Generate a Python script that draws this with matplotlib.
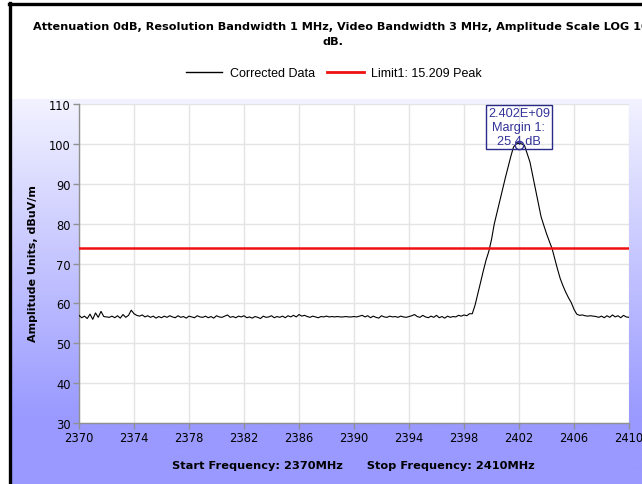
import numpy as np
import matplotlib
matplotlib.use("Agg")
import matplotlib.pyplot as plt
from matplotlib.lines import Line2D

# ---------------- data ----------------
freq_start = 2370.0
freq_stop = 2410.0
x_ticks = [2370, 2374, 2378, 2382, 2386, 2390, 2394, 2398, 2402, 2406, 2410]
y_ticks = [30, 40, 50, 60, 70, 80, 90, 100, 110]

trace_left = [57.0, 56.4, 56.8, 56.2, 57.3, 56.0, 57.6, 56.5, 58.0, 56.7,
              56.6, 56.5, 56.8, 56.4, 56.9, 56.3, 57.2, 56.5, 57.0, 58.3,
              57.4, 57.0, 56.8, 57.1, 56.6, 56.9, 56.5, 56.8, 56.3, 56.7,
              56.4]
trace_mid = [56.8, 56.5, 56.9, 56.6, 56.4, 56.9, 56.5, 56.7,
             56.3, 56.8, 56.6, 56.4, 56.9, 56.6, 56.5, 56.8,
             56.4, 56.7, 56.3, 56.9, 56.6, 56.5, 56.8, 57.1,
             56.5, 56.7, 56.4, 56.8, 56.6, 56.9, 56.4, 56.6,
             56.3, 56.7, 56.5, 56.2, 56.8, 56.5, 56.6, 56.9,
             56.4, 56.7, 56.5, 56.8, 56.4, 56.9, 56.6, 57.0,
             56.6, 57.2, 56.8, 57.0, 56.7, 56.5, 56.8, 56.6,
             56.4, 56.7, 56.6, 56.8, 56.6, 56.7, 56.6, 56.7,
             56.6, 56.6, 56.7, 56.6, 56.6, 56.7, 56.6, 56.8,
             57.0, 56.6, 56.9, 56.4, 56.8, 56.5, 56.3, 56.9,
             56.6, 56.5, 56.8, 56.6, 56.7, 56.5, 56.8, 56.6,
             56.5, 56.7, 56.9, 57.2, 56.7, 56.5, 57.0, 56.6,
             56.4, 56.8, 56.5, 57.0, 56.4, 56.7, 56.3, 56.8,
             56.5, 56.7, 56.6, 57.0, 56.8, 57.1, 56.9, 57.4]
trace_peak = [57.4, 59.5, 62.3, 65.2, 68.1, 70.8, 73.0, 76.0, 79.9, 82.8,
              85.7, 88.6, 91.4, 94.1, 96.8, 99.2, 100.0, 100.1,
              100.0, 99.6, 97.5, 95.4, 92.0, 88.5, 85.2, 81.8, 79.6, 77.5,
              75.6, 73.8, 71.2, 68.6, 66.2, 64.4, 62.8, 61.4, 60.2, 58.5,
              57.3]
trace_right = [57.0, 57.1, 56.9, 56.8, 56.9, 56.8, 56.7, 56.5, 56.8, 56.4,
               56.9, 56.5, 57.1, 56.6, 56.9, 56.4, 57.0, 56.6, 56.5]

corrected_data = trace_left + trace_mid + trace_peak + trace_right
limit_value = 74.0
marker_freq = 2402.0
marker_value = 99.7

title_line1 = "Attenuation 0dB, Resolution Bandwidth 1 MHz, Video Bandwidth 3 MHz, Amplitude Scale LOG 10"
title_line2 = "dB."
legend_labels = ["Corrected Data", "Limit1: 15.209 Peak"]
ylabel = "Amplitude Units, dBuV/m"
xlabel = "Start Frequency: 2370MHz      Stop Frequency: 2410MHz"
annot_text = "2.402E+09\nMargin 1:\n25.4 dB"

freqs = np.linspace(freq_start, freq_stop, len(corrected_data))

# ---------------- figure ----------------
W, H = 642, 485
fig = plt.figure(figsize=(W / 100, H / 100), dpi=100)
fig.patch.set_facecolor("white")

def fx(px):
    return px / W

def fy(py):
    return 1 - py / H

# gradient background
bg = fig.add_axes([fx(12), 0, 1 - fx(12), fy(100)], zorder=0)
bg.set_axis_off()
n = 256
t = np.linspace(0, 1, n)[:, None]
top_c = np.array([0.95, 0.95, 1.0])
bot_c = np.array([0.60, 0.60, 1.0])
frac = np.clip(t / 0.83, 0, 1)
grad = top_c[None, :] * (1 - frac) + bot_c[None, :] * frac
grad = np.repeat(grad[:, None, :], 2, axis=1)
bg.imshow(grad, aspect="auto", extent=[0, 1, 0, 1], origin="upper")
bg.set_xlim(0, 1)
bg.set_ylim(0, 1)

# black borders
fig.add_artist(Line2D([fx(10), fx(10)], [0, fy(4)], color="black", lw=2.4, transform=fig.transFigure))
fig.add_artist(Line2D([fx(9), 1], [fy(5), fy(5)], color="black", lw=2.4, transform=fig.transFigure))

# main axes
ax = fig.add_axes([fx(79), fy(424), fx(629) - fx(79), fy(105) - fy(424)], zorder=2)
ax.set_facecolor("white")
ax.plot(freqs, corrected_data, color="black", lw=0.8, zorder=3, label=legend_labels[0])
ax.axhline(limit_value, color="#EE1111", lw=1.8, zorder=3, label=legend_labels[1])
ax.set_xlim(freq_start, freq_stop)
ax.set_ylim(30, 110)
ax.set_xticks(x_ticks)
ax.set_yticks(y_ticks)
ax.grid(True, color="#E4E4E4", lw=1.0, zorder=0)
ax.set_axisbelow(True)
for s in ["top", "right"]:
    ax.spines[s].set_visible(False)
for s in ["left", "bottom"]:
    ax.spines[s].set_color("#909090")
    ax.spines[s].set_linewidth(1.0)
ax.tick_params(axis="both", colors="#909090", length=4, width=1, labelcolor="black",
               labelsize=8.3, pad=2)
for lab in ax.get_xticklabels() + ax.get_yticklabels():
    lab.set_family("DejaVu Sans")

# marker + annotation
ax.plot([marker_freq], [marker_value], marker="o", ms=6, mfc="none", mec="#333399", mew=1.0, zorder=5)
ax.text(marker_freq, 109.2, annot_text, ha="center", va="top", fontsize=9.2,
        family="Liberation Sans", color="#333399", linespacing=1.2, zorder=6,
        bbox=dict(boxstyle="square,pad=0.18", fc="none", ec="#2A2A8A", lw=1.0))

# titles / labels
fig.text(fx(33), fy(27), title_line1, ha="left", va="center", fontsize=8.15,
         fontweight="bold", family="DejaVu Sans")
fig.text(fx(333), fy(42), title_line2, ha="center", va="center", fontsize=8.15,
         fontweight="bold", family="DejaVu Sans")
fig.text(fx(33), fy(264), ylabel, rotation=90, ha="center", va="center", fontsize=8.0,
         fontweight="bold", family="DejaVu Sans")
fig.text(fx(353), fy(466), xlabel, ha="center", va="center", fontsize=8.2,
         fontweight="bold", family="DejaVu Sans")

# legend
handles = [Line2D([], [], color="black", lw=1.0), Line2D([], [], color="#EE1111", lw=2.0)]
fig.legend(handles, legend_labels, loc="center", bbox_to_anchor=(fx(334), fy(74)), ncol=2,
           frameon=False, prop={"family": "Liberation Sans", "size": 9},
           handlelength=2.9, handletextpad=0.6, columnspacing=1.0)

fig.savefig("out.png", dpi=100)
